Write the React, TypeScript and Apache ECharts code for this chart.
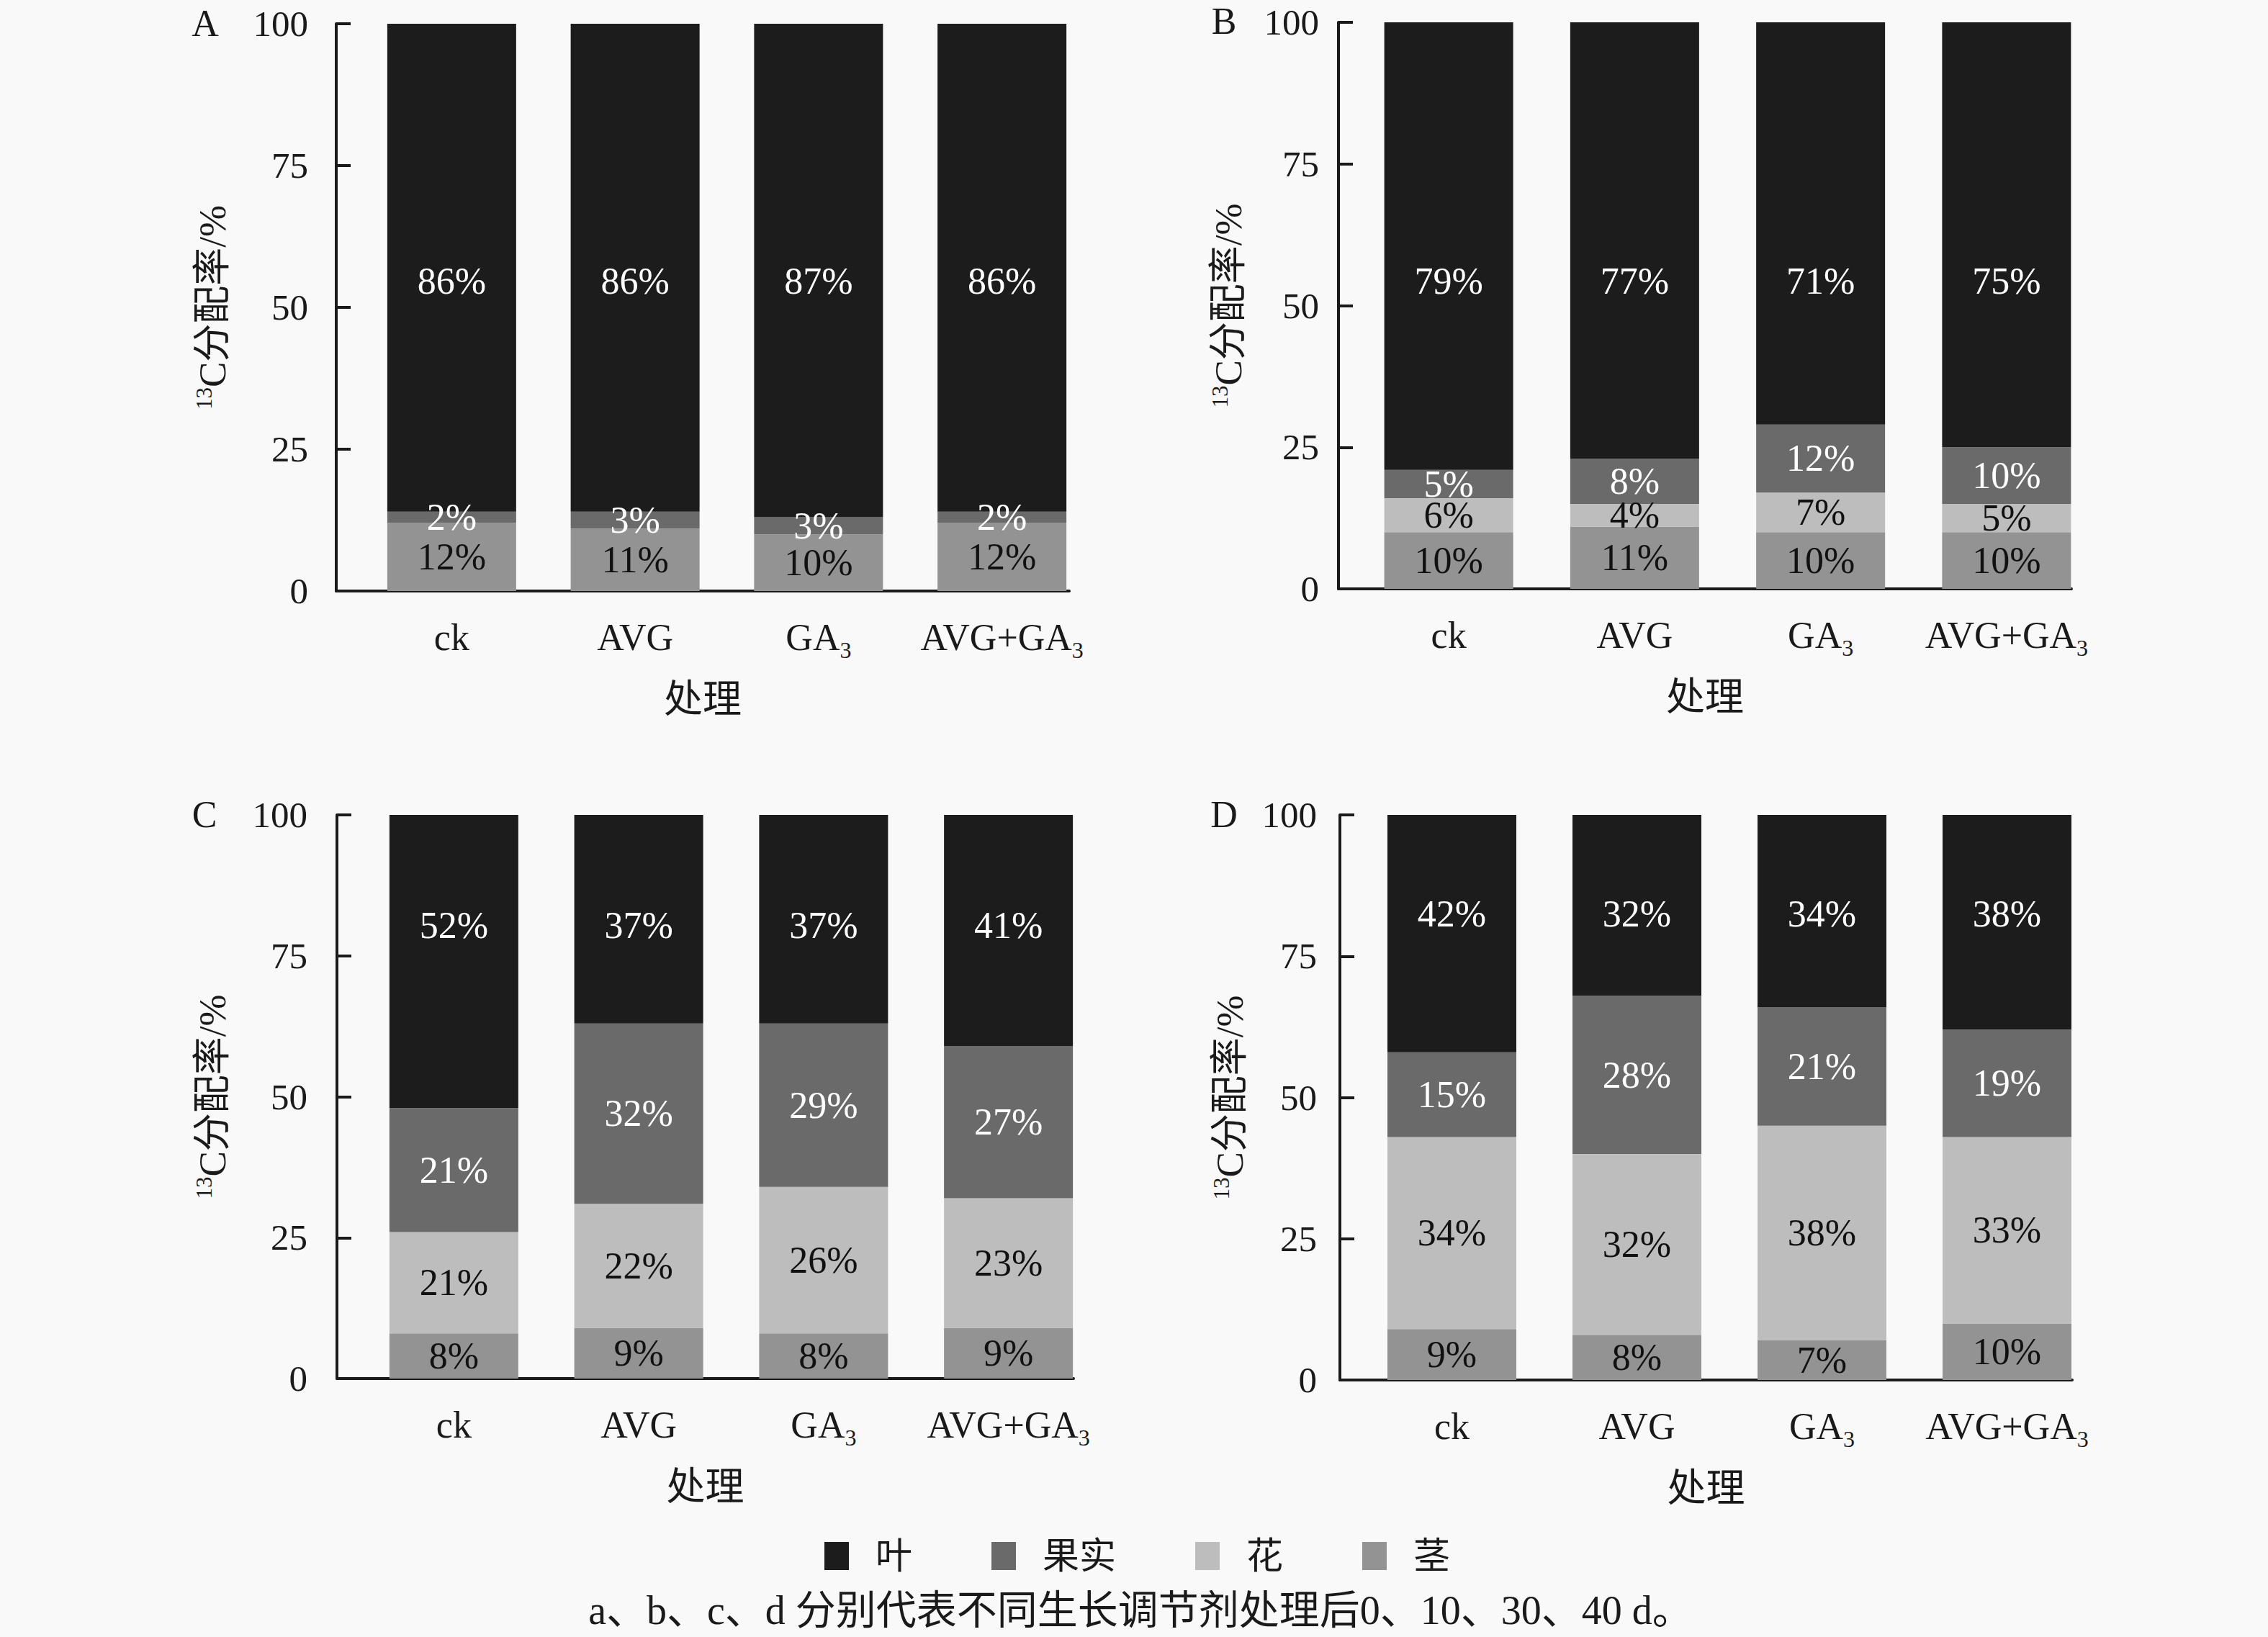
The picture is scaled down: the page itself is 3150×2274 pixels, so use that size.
import React, { useEffect, useRef } from "react";
import * as echarts from "echarts";

// ---------- data ----------
const CATEGORIES = ["ck", "AVG", "GA3", "AVG+GA3"];
const SERIES_NAMES = ["叶", "果实", "花", "茎"];
const PANEL_LETTERS = ["A", "B", "C", "D"];

// Panel A (0 d)
const A_LEAF = [86, 86, 87, 86];
const A_FRUIT = [2, 3, 3, 2];
const A_FLOWER = [0, 0, 0, 0];
const A_STEM = [12, 11, 10, 12];
// Panel B (10 d)
const B_LEAF = [79, 77, 71, 75];
const B_FRUIT = [5, 8, 12, 10];
const B_FLOWER = [6, 4, 7, 5];
const B_STEM = [10, 11, 10, 10];
// Panel C (30 d) – printed values
const C_LEAF = [52, 37, 37, 41];
const C_FRUIT = [21, 32, 29, 27];
const C_FLOWER = [21, 22, 26, 23];
const C_STEM = [8, 9, 8, 9];
// Panel C drawn segment heights (the ck bar is drawn shorter than printed)
const C_FRUIT_BAR = [22, 32, 29, 27];
const C_FLOWER_BAR = [18, 22, 26, 23];
// Panel D (40 d)
const D_LEAF = [42, 32, 34, 38];
const D_FRUIT = [15, 28, 21, 19];
const D_FLOWER = [34, 32, 38, 33];
const D_STEM = [9, 8, 7, 10];

const Y_TICKS = [0, 25, 50, 75, 100];
const CAPTION = "a、b、c、d 分别代表不同生长调节剂处理后0、10、30、40 d。";

// ---------- styling ----------
const FONT = "'Liberation Serif', 'Noto Sans CJK SC', serif";
const INK = "#1a1a1a";
const COLORS: Record<string, string> = {
  叶: "#1c1c1c",
  果实: "#6a6a6a",
  花: "#bdbdbd",
  茎: "#939393",
};
const LABEL_COLORS: Record<string, string> = {
  叶: "#ffffff",
  果实: "#ffffff",
  花: "#111111",
  茎: "#111111",
};

const PANELS = [
  { leaf: A_LEAF, fruit: A_FRUIT, flower: A_FLOWER, stem: A_STEM },
  { leaf: B_LEAF, fruit: B_FRUIT, flower: B_FLOWER, stem: B_STEM },
  {
    leaf: C_LEAF,
    fruit: C_FRUIT,
    flower: C_FLOWER,
    stem: C_STEM,
    fruitBar: C_FRUIT_BAR,
    flowerBar: C_FLOWER_BAR,
  },
  { leaf: D_LEAF, fruit: D_FRUIT, flower: D_FLOWER, stem: D_STEM },
];

// layout (pixels)
const LAYOUT = [
  { frameLeft: 467, frameRight: 1485, top: 33, bottom: 821, barLeft: 500, barWidth: 1019, labelMargin: 39, nameGap: 146, letterX: 285, letterY: 32, leafLabelTop: 357 },
  { frameLeft: 1859, frameRight: 2877, top: 31, bottom: 818, barLeft: 1883, barWidth: 1033, labelMargin: 27, nameGap: 127, letterX: 1700, letterY: 29, leafLabelTop: 359 },
  { frameLeft: 468, frameRight: 1491, top: 1132, bottom: 1915, barLeft: 502, barWidth: 1027, labelMargin: 41, nameGap: 147, letterX: 284, letterY: 1131, leafLabelTop: 153 },
  { frameLeft: 1861, frameRight: 2878, top: 1132, bottom: 1917, barLeft: 1888, barWidth: 1028, labelMargin: 32, nameGap: 127, letterX: 1700, letterY: 1131, leafLabelTop: 137 },
];

function buildOption() {
  const grids: any[] = [];
  const xAxes: any[] = [];
  const yAxes: any[] = [];
  const series: any[] = [];

  LAYOUT.forEach((L) => {
    grids.push({ left: L.barLeft, top: L.top, width: L.barWidth, height: L.bottom - L.top, containLabel: false });
  });
  LAYOUT.forEach((L) => {
    grids.push({ left: L.frameLeft, top: L.top, width: L.frameRight - L.frameLeft, height: L.bottom - L.top, containLabel: false });
  });

  LAYOUT.forEach((L, i) => {
    xAxes.push({
      type: "category",
      gridIndex: i,
      data: CATEGORIES,
      axisLine: { show: false },
      axisTick: { show: false },
      axisLabel: {
        interval: 0,
        margin: 30,
        fontSize: 52,
        fontFamily: FONT,
        color: INK,
        formatter: (v: string) =>
          v.indexOf("GA3") >= 0 ? v.replace(/GA3/g, "GA{sub|3}") : "{m|" + v + "}",
        rich: {
          sub: { fontSize: 32, fontFamily: FONT, color: INK, verticalAlign: "bottom", padding: [36, 0, 0, 0] },
          m: { fontSize: 52, fontFamily: FONT, color: INK, padding: [8, 0, 8, 0] },
        },
      },
    });
    yAxes.push({
      type: "value",
      gridIndex: i,
      min: Y_TICKS[0],
      max: Y_TICKS[Y_TICKS.length - 1],
      interval: 25,
      position: "left",
      offset: L.barLeft - L.frameLeft,
      axisLine: { show: true, lineStyle: { color: INK, width: 4 } },
      axisTick: { show: true, inside: true, length: 20, lineStyle: { color: INK, width: 4 } },
      splitLine: { show: false },
      axisLabel: { margin: L.labelMargin, fontSize: 51, fontFamily: FONT, color: INK },
      name: "{sup|13}C分配率/%",
      nameLocation: "middle",
      nameGap: L.nameGap,
      nameTextStyle: {
        fontSize: 53,
        fontFamily: FONT,
        color: INK,
        rich: { sup: { fontSize: 31, fontFamily: FONT, color: INK, verticalAlign: "top" } },
      },
    });
  });

  LAYOUT.forEach((L, i) => {
    xAxes.push({
      type: "value",
      gridIndex: 4 + i,
      min: 0,
      max: 1,
      axisLine: { show: true, onZero: false, lineStyle: { color: INK, width: 4 } },
      axisTick: { show: false },
      axisLabel: { show: false },
      splitLine: { show: false },
      name: "处理",
      nameLocation: "middle",
      nameGap: 124,
      nameTextStyle: { fontSize: 54, fontFamily: FONT, color: INK },
    });
    yAxes.push({ type: "value", gridIndex: 4 + i, min: 0, max: 1, show: false });
  });

  PANELS.forEach((P: any, i) => {
    const L = LAYOUT[i];
    const parts: [string, number[], number[]][] = [
      ["茎", P.stem, P.stem],
      ["花", P.flower, P.flowerBar || P.flower],
      ["果实", P.fruit, P.fruitBar || P.fruit],
      ["叶", P.leaf, P.leaf],
    ];
    parts.forEach(([name, shown, bar]) => {
      const labelPos: any =
        name === "叶"
          ? { position: ["50%", L.leafLabelTop], align: "center", verticalAlign: "middle" }
          : { position: "inside" };
      series.push({
        type: "bar",
        name,
        xAxisIndex: i,
        yAxisIndex: i,
        stack: "p" + i,
        barWidth: 179,
        itemStyle: { color: COLORS[name] },
        label: {
          show: true,
          ...labelPos,
          fontSize: 52,
          fontFamily: FONT,
          color: LABEL_COLORS[name],
          formatter: (p: any) => {
            const v = p.data && p.data.shown != null ? p.data.shown : p.value;
            return v > 0 ? v + "%" : "";
          },
        },
        data: bar.map((v, k) => ({ value: v, shown: shown[k] })),
      });
    });
  });

  const graphics: any[] = LAYOUT.map((L, i) => ({
    type: "text",
    x: L.letterX,
    y: L.letterY,
    style: {
      text: PANEL_LETTERS[i],
      fontSize: 52,
      fontFamily: FONT,
      fill: INK,
      align: "center",
      verticalAlign: "middle",
      textAlign: "center",
      textVerticalAlign: "middle",
    },
  }));
  graphics.push({
    type: "text",
    x: 1584,
    y: 2237,
    style: {
      text: CAPTION,
      fontSize: 56,
      fontFamily: FONT,
      fill: INK,
      align: "center",
      verticalAlign: "middle",
      textAlign: "center",
      textVerticalAlign: "middle",
    },
  });

  return {
    animation: false,
    backgroundColor: "#f9f9f9",
    grid: grids,
    xAxis: xAxes,
    yAxis: yAxes,
    series,
    legend: {
      data: SERIES_NAMES,
      left: 1140,
      top: 2131,
      icon: "rect",
      itemWidth: 34,
      itemHeight: 39,
      itemGap: 110,
      selectedMode: false,
      textStyle: { fontSize: 51, fontFamily: FONT, color: INK, padding: [0, 0, 0, 32] },
    },
    graphic: graphics,
  };
}

export default function App() {
  const ref = useRef<HTMLDivElement>(null);
  useEffect(() => {
    document.body.style.margin = "0";
    if (!ref.current) return;
    const chart = echarts.init(ref.current, null, { renderer: "svg" });
    chart.setOption(buildOption() as any);
    return () => chart.dispose();
  }, []);
  return (
    <div
      ref={ref}
      style={{ position: "absolute", left: 0, top: 0, width: 3150, height: 2274 }}
    />
  );
}
